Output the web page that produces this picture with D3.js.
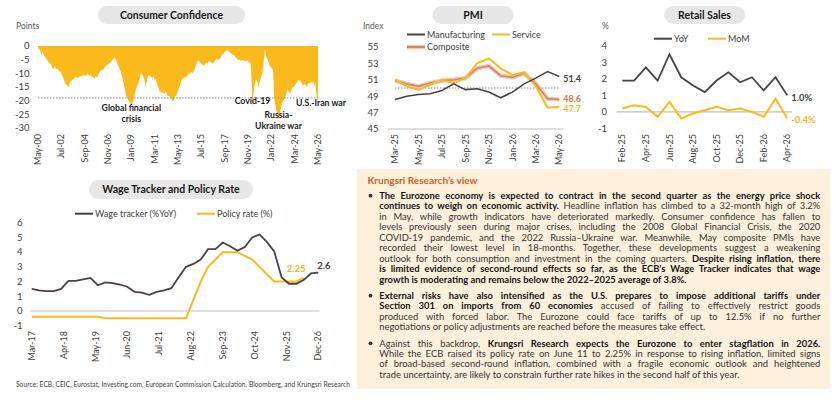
<!DOCTYPE html>
<html>
<head>
<meta charset="utf-8">
<script src="https://cdn.jsdelivr.net/npm/d3@7"></script>
<style>
body { margin: 0; background: #fff; }
svg { display: block; font-family: Lato, "Open Sans", sans-serif; }
</style>
</head>
<body>
<svg id="chart" width="840" height="405"></svg>
<script>
// ---- data ----
// Consumer confidence, monthly, May-00 .. May-26
const ccValues = [
  -0.5, -1.5, -1, -2.5, -3.5, -2, -2.7, -3.5,
  -4, -4.5, -5, -5.5, -6, -6.5, -6.3, -7, -8, -8.5, -7.5, -7.5,
  -8.8, -8.2, -8.5, -9, -9.5, -9.2, -10, -10.8, -11.5, -12.5, -13.5, -14,
  -14.2, -14.8, -14.9, -14, -13, -12.8, -12.5, -12.2, -12, -11.5, -11.2, -11.5,
  -11.8, -11.5, -11.2, -11.2, -11, -10.8, -11, -10.5, -10.8, -11, -10.5, -10.2,
  -10.4, -10.8, -10.6, -11, -11.5, -11.2, -11.5, -12, -11, -11.2, -11.7, -10.5,
  -9.8, -9.5, -9, -8.8, -9, -8.5, -8, -7.5, -7.2, -7, -6.8, -6.5,
  -6.3, -6, -5.5, -5, -4.8, -4.2, -4.5, -5, -6, -7, -7.5, -8.5,
  -9, -10.5, -11.5, -13, -14.5, -16, -18, -19, -19.5, -20, -20.5, -21,
  -21.5, -21, -20, -19, -17.5, -16, -15, -14, -13.5, -12.5, -10.5, -10,
  -10.6, -11, -12, -13, -15, -13, -11.5, -10.6, -11, -10.8, -11.5, -11.2,
  -12, -11, -12.5, -12, -13, -14, -15, -16, -17, -16.5, -17.5, -17,
  -17.3, -17.5, -16.5, -17, -18, -18.2, -18.5, -18.5, -19, -19.5, -20.4, -20,
  -19, -18.5, -18, -17.3, -16.5, -15.5, -14.5, -13.5, -12.4, -12, -11.8, -11.5,
  -11.5, -11.2, -11.2, -10.5, -10, -10.2, -9.8, -9.4, -10, -9.5, -9, -8,
  -7, -6.3, -5.5, -5.2, -5.8, -6.2, -6.5, -6.8, -7, -7.2, -6.5, -6.2,
  -6, -6.5, -5.7, -5.5, -5.8, -6, -6.3, -6.3, -6, -5.5, -5, -4.5,
  -4.8, -5, -5.1, -4.5, -3.8, -3.2, -3, -2.7, -2.2, -1.8, -1.6, -1.5,
  -1.7, -2, -2.5, -2.8, -3, -3.2, -3.3, -3.5, -4, -4.5, -4.8, -5,
  -5, -5.1, -5.5, -5.2, -5.1, -5.3, -5.5, -5.4, -5.8, -5.1, -5.5, -6,
  -6.3, -6, -13, -22.8, -18, -14.9, -13.5, -12.4, -13, -13.5, -15.5, -13,
  -12, -11, -9.9, -7, -3.9, -0.9, -3, -4.5, -5, -6, -7, -7.6,
  -8, -8.5, -8.8, -18.5, -21, -22, -24.6, -25, -27.1, -26, -24, -22.2,
  -21, -20, -19.5, -19.1, -18, -17, -16, -16.5, -17, -17.5, -16.5, -15.5,
  -14.9, -15, -14.5, -14, -13.5, -13, -12.4, -12.8, -12.5, -13, -13.8, -14.3,
  -14.2, -13.8, -14, -15, -14.5, -13.6, -13.8, -13.5, -13.2, -13, -13.5, -13,
  -15, -13.5, -16.5, -20.5, -19
];
const ccTickLabels = ["May-00", "Jul-02", "Sep-04", "Nov-06", "Jan-09", "Mar-11", "May-13",
  "Jul-15", "Sep-17", "Nov-19", "Jan-22", "Mar-24", "May-26"];
const ccYTicks = [0, -5, -10, -15, -20, -25, -30];

// PMI, monthly Mar-25 .. May-26
const pmiMonths = ["Mar-25", "Apr-25", "May-25", "Jun-25", "Jul-25", "Aug-25", "Sep-25", "Oct-25",
  "Nov-25", "Dec-25", "Jan-26", "Feb-26", "Mar-26", "Apr-26", "May-26"];
const pmiManufacturing = [48.6, 49.0, 49.2, 49.3, 49.7, 50.5, 49.8, 49.9, 49.5, 48.8, 49.5, 50.5, 51.2, 52.0, 51.4];
const pmiService = [51.0, 50.2, 49.75, 50.4, 51.0, 50.6, 51.2, 53.0, 53.6, 52.4, 51.6, 51.9, 50.2, 47.6, 47.7];
const pmiComposite = [50.9, 50.5, 50.2, 50.6, 50.9, 51.0, 51.2, 52.4, 52.7, 51.5, 51.3, 51.8, 50.5, 48.7, 48.6];
const pmiYTicks = [45, 47, 49, 51, 53, 55];

// Retail sales, monthly Feb-25 .. Apr-26
const retailMonths = ["Feb-25", "Mar-25", "Apr-25", "May-25", "Jun-25", "Jul-25", "Aug-25", "Sep-25",
  "Oct-25", "Nov-25", "Dec-25", "Jan-26", "Feb-26", "Mar-26", "Apr-26"];
const retailYoY = [1.9, 1.9, 2.7, 1.9, 3.5, 2.1, 1.6, 1.2, 1.9, 2.4, 1.8, 2.1, 1.3, 2.1, 1.0];
const retailMoM = [0.2, 0.4, 0.3, -0.3, 0.6, -0.4, -0.1, 0.1, 0.3, 0.1, 0.2, 0.0, -0.3, 0.8, -0.4];
const retailYTicks = [-1, 0, 1, 2, 3, 4];

// Wage tracker and policy rate, quarterly Mar-17 .. Dec-26
const wageTracker = [1.5, 1.4, 1.35, 1.35, 1.5, 2.05, 2.05, 2.15, 2.25, 1.75, 1.95, 1.9,
  1.8, 1.65, 1.3, 1.25, 1.1, 1.3, 1.4, 1.55, 2.3, 3.0, 3.2, 3.5,
  4.2, 4.2, 4.65, 4.4, 4.1, 4.35, 5.0, 5.2, 4.7, 4.05, 2.3, 1.85, 1.85, 2.1, 2.55, 2.6];
const policyRate = [-0.4, -0.4, -0.4, -0.4, -0.4, -0.4, -0.4, -0.4, -0.4, -0.4,
  -0.5, -0.5, -0.5, -0.5, -0.5, -0.5, -0.5, -0.5, -0.5, -0.5, -0.5, -0.5,
  0.75, 2.0, 3.0, 3.5, 4.0, 4.0, 4.0, 3.75, 3.5, 3.0, 2.5, 2.0, 2.0, 2.0, 2.0, 2.25];
const wageTickLabels = ["Mar-17", "Apr-18", "May-19", "Jun-20", "Jul-21", "Aug-22", "Sep-23", "Oct-24", "Nov-25", "Dec-26"];
const wageYTicks = [-1, 0, 1, 2, 3, 4, 5, 6];

// commentary
const viewParagraphs = [
  [
    [{b: 1, t: "The Eurozone economy is expected to contract in the second quarter as the energy price shock"}],
    [{b: 1, t: "continues to weigh on economic activity."}, {t: " Headline inflation has climbed to a 32-month high of 3.2%"}],
    [{t: "in May, while growth indicators have deteriorated markedly. Consumer confidence has fallen to"}],
    [{t: "levels previously seen during major crises, including the 2008 Global Financial Crisis, the 2020"}],
    [{t: "COVID-19 pandemic, and the 2022 Russia\u2013Ukraine war. Meanwhile, May composite PMIs have"}],
    [{t: "recorded their lowest level in 18-months. Together, these developments suggest a weakening"}],
    [{t: "outlook for both consumption and investment in the coming quarters. "}, {b: 1, t: "Despite rising inflation, there"}],
    [{b: 1, t: "is limited evidence of second-round effects so far, as the ECB\u2019s Wage Tracker indicates that wage"}],
    [{b: 1, t: "growth is moderating and remains below the 2022\u20132025 average of 3.8%."}]
  ],
  [
    [{b: 1, t: "External risks have also intensified as the U.S. prepares to impose additional tariffs under"}],
    [{b: 1, t: "Section 301 on imports from 60 economies"}, {t: " accused of failing to effectively restrict goods"}],
    [{t: "produced with forced labor. The Eurozone could face tariffs of up to 12.5% if no further"}],
    [{t: "negotiations or policy adjustments are reached before the measures take effect."}]
  ],
  [
    [{t: "Against this backdrop, "}, {b: 1, t: "Krungsri Research expects the Eurozone to enter stagflation in 2026."}],
    [{t: "While the ECB raised its policy rate on June 11 to 2.25% in response to rising inflation, limited signs"}],
    [{t: "of broad-based second-round inflation, combined with a fragile economic outlook and heightened"}],
    [{t: "trade uncertainty, are likely to constrain further rate hikes in the second half of this year."}]
  ]
];

// ---- styles ----
const YELLOW = "#FBBA1C";
const DARK = "#4b4045";
const COMPOSITE = "#c98b6d";
const COMPOSITE_HALO = "#efc9b2";
const TICK = "#404040";

const svg = d3.select("#chart");

function pill(cx, y, w, h, label) {
	svg.append("rect")
		.attr("x", cx - w / 2).attr("y", y)
		.attr("width", w).attr("height", h)
		.attr("rx", h / 2)
		.attr("fill", "#e7e7e7");
	svg.append("text")
		.attr("x", cx).attr("y", y + h / 2)
		.attr("dy", "0.35em")
		.attr("text-anchor", "middle")
		.attr("font-weight", "bold")
		.attr("font-size", 10.5)
		.attr("fill", "#1a1a1a")
		.text(label);
}

function yAxisLabels(ticks, y, xRight) {
	svg.append("g").selectAll("text")
		.data(ticks)
		.enter().append("text")
			.attr("x", xRight)
			.attr("y", d => y(d))
			.attr("dy", "0.35em")
			.attr("text-anchor", "end")
			.attr("font-size", 9.5)
			.attr("fill", TICK)
			.text(d => d);
}

function xAxisLabels(data, x, yTop) {
	svg.append("g").selectAll("text")
		.data(data)
		.enter().append("text")
			.attr("transform", d => `translate(${x(d.i)},${yTop}) rotate(-90)`)
			.attr("dy", "0.35em")
			.attr("text-anchor", "end")
			.attr("font-size", 9)
			.attr("fill", TICK)
			.text(d => d.label);
}

function legendItem(x, y, color, label, halo) {
	if (halo) {
		svg.append("line")
			.attr("x1", x).attr("x2", x + 18).attr("y1", y).attr("y2", y)
			.attr("stroke", halo).attr("stroke-width", 4.5);
	}
	svg.append("line")
		.attr("x1", x).attr("x2", x + 18).attr("y1", y).attr("y2", y)
		.attr("stroke", color).attr("stroke-width", 2);
	svg.append("text")
		.attr("x", x + 20).attr("y", y)
		.attr("dy", "0.35em")
		.attr("font-size", 9)
		.attr("fill", TICK)
		.text(label);
}

function unitLabel(x, y, label) {
	svg.append("text")
		.attr("x", x).attr("y", y)
		.attr("dy", "0.35em")
		.attr("font-size", 8.5)
		.attr("fill", "#595959")
		.text(label);
}

// ---- Consumer confidence ----
pill(171.5, 6, 147, 18, "Consumer Confidence");
unitLabel(16, 26, "Points");

const xCC = d3.scaleLinear().domain([0, ccValues.length - 1]).range([38, 318]);
const yCC = d3.scaleLinear().domain([-30, 0]).range([128, 46]);

svg.append("path")
	.datum(ccValues)
	.attr("fill", YELLOW)
	.attr("d", d3.area()
		.x((d, i) => xCC(i))
		.y0(yCC(0))
		.y1(d => yCC(d)));

// dotted reference at latest reading
svg.append("line")
	.attr("x1", xCC(0)).attr("x2", xCC(ccValues.length - 1))
	.attr("y1", yCC(ccValues[ccValues.length - 1])).attr("y2", yCC(ccValues[ccValues.length - 1]))
	.attr("stroke", "#8c8c8c")
	.attr("stroke-width", 1)
	.attr("stroke-dasharray", "1.5,1.5");

yAxisLabels(ccYTicks, yCC, 29.5);
xAxisLabels(ccTickLabels.map((label, k) => ({label, i: k * 26})), xCC, 134);

const ccNotes = [
	{i: 104, v: -22.6, lines: ["Global financial", "crisis"]},
	{i: 239, v: -20.1, lines: ["Covid-19"]},
	{i: 268, v: -25.4, lines: ["Russia-", "Ukraine war"]},
	{i: 312, v: -20.8, lines: ["U.S.-Iran war"], dx: 3}
];
ccNotes.forEach(n => {
	const t = svg.append("text")
		.attr("x", xCC(n.i) + (n.dx || 0))
		.attr("y", yCC(n.v))
		.attr("text-anchor", "middle")
		.attr("font-weight", "bold")
		.attr("font-size", 8.7)
		.attr("fill", "#1a1a1a");
	n.lines.forEach((l, k) => {
		t.append("tspan").attr("x", xCC(n.i) + (n.dx || 0)).attr("dy", k ? 10.8 : "0.35em").text(l);
	});
});

// ---- PMI ----
pill(473, 6, 81, 18, "PMI");
unitLabel(363, 26, "Index");
legendItem(407, 34.5, DARK, "Manufacturing");
legendItem(492, 34.5, YELLOW, "Service");
legendItem(407, 47, COMPOSITE, "Composite", COMPOSITE_HALO);

const xP = d3.scaleLinear().domain([0, pmiMonths.length - 1]).range([395, 559.3]);
const yP = d3.scaleLinear().domain([45, 55]).range([129, 47]);

svg.append("line")
	.attr("x1", 388).attr("x2", 563.5)
	.attr("y1", yP(45)).attr("y2", yP(45))
	.attr("stroke", "#bfbfbf");
svg.append("line")
	.attr("x1", xP(0)).attr("x2", xP(pmiMonths.length - 1))
	.attr("y1", yP(50)).attr("y2", yP(50))
	.attr("stroke", "#8c8c8c")
	.attr("stroke-dasharray", "1.5,1.5");

const lineP = d3.line().x((d, i) => xP(i)).y(d => yP(d));
svg.append("path").datum(pmiComposite).attr("fill", "none")
	.attr("stroke", COMPOSITE_HALO).attr("stroke-width", 4.5).attr("d", lineP);
svg.append("path").datum(pmiComposite).attr("fill", "none")
	.attr("stroke", COMPOSITE).attr("stroke-width", 1.6).attr("d", lineP);
svg.append("path").datum(pmiService).attr("fill", "none")
	.attr("stroke", YELLOW).attr("stroke-width", 2).attr("d", lineP);
svg.append("path").datum(pmiManufacturing).attr("fill", "none")
	.attr("stroke", DARK).attr("stroke-width", 1.6).attr("d", lineP);

yAxisLabels(pmiYTicks, yP, 378.5);
xAxisLabels(pmiMonths.map((label, i) => ({label, i})).filter(d => d.i % 2 === 0), xP, 134);

const lastP = pmiMonths.length - 1;
[
	{v: pmiManufacturing[lastP], color: "#404040", dy: 2},
	{v: pmiComposite[lastP], color: "#d2733f", dy: -0.8},
	{v: pmiService[lastP], color: "#f5b41a", dy: 1.8}
].forEach(d => {
	svg.append("text")
		.attr("x", xP(lastP) + 4).attr("y", yP(d.v) + d.dy)
		.attr("dy", "0.35em")
		.attr("font-size", 9)
		.attr("font-weight", "bold")
		.attr("fill", d.color)
		.text(d.v.toFixed(1));
});

// ---- Retail sales ----
pill(704.5, 6, 81, 18, "Retail Sales");
unitLabel(602, 26, "%");
legendItem(654, 38.7, DARK, "YoY");
legendItem(708, 38.7, YELLOW, "MoM");

const xR = d3.scaleLinear().domain([0, retailMonths.length - 1]).range([622.3, 787.3]);
const yR = d3.scaleLinear().domain([-1, 4]).range([128.3, 46]);

svg.append("line")
	.attr("x1", 616.5).attr("x2", 792)
	.attr("y1", yR(0)).attr("y2", yR(0))
	.attr("stroke", "#bfbfbf").attr("stroke-width", 1.2);

const lineR = d3.line().x((d, i) => xR(i)).y(d => yR(d));
svg.append("path").datum(retailMoM).attr("fill", "none")
	.attr("stroke", YELLOW).attr("stroke-width", 2).attr("d", lineR);
svg.append("path").datum(retailYoY).attr("fill", "none")
	.attr("stroke", DARK).attr("stroke-width", 1.8).attr("d", lineR);

yAxisLabels(retailYTicks, yR, 607);
xAxisLabels(retailMonths.map((label, i) => ({label, i})).filter(d => d.i % 2 === 0), xR, 134);

const lastR = retailMonths.length - 1;
svg.append("text")
	.attr("x", xR(lastR) + 4).attr("y", yR(retailYoY[lastR]) + 2.5)
	.attr("dy", "0.35em").attr("font-size", 9.5).attr("font-weight", "bold")
	.attr("fill", "#404040").text(retailYoY[lastR].toFixed(1) + "%");
svg.append("text")
	.attr("x", xR(lastR) + 4).attr("y", yR(retailMoM[lastR]) + 1)
	.attr("dy", "0.35em").attr("font-size", 9.5).attr("font-weight", "bold")
	.attr("fill", "#f5b41a").text(retailMoM[lastR].toFixed(1) + "%");

// ---- Wage tracker and policy rate ----
pill(171, 180, 164, 19, "Wage Tracker and Policy Rate");
legendItem(75, 213.7, DARK, "Wage tracker (%YoY)");
legendItem(197, 213.7, YELLOW, "Policy rate (%)");

// x in months since Mar-17, points are quarterly
const xW = d3.scaleLinear().domain([0, 117]).range([31.7, 318.3]);
const yW = d3.scaleLinear().domain([-1, 6]).range([325.7, 222.7]);

svg.append("line")
	.attr("x1", 30).attr("x2", 319.5)
	.attr("y1", yW(0)).attr("y2", yW(0))
	.attr("stroke", "#bfbfbf").attr("stroke-width", 1.2);

const lineW = d3.line().x((d, i) => xW(i * 3)).y(d => yW(d));
svg.append("path").datum(policyRate).attr("fill", "none")
	.attr("stroke", YELLOW).attr("stroke-width", 2).attr("d", lineW);
svg.append("path").datum(wageTracker).attr("fill", "none")
	.attr("stroke", DARK).attr("stroke-width", 1.8).attr("d", lineW);

yAxisLabels(wageYTicks, yW, 22.5);
xAxisLabels(wageTickLabels.map((label, k) => ({label, i: k * 13})), xW, 331);

const lastPol = policyRate.length - 1;
svg.append("text")
	.attr("x", xW(lastPol * 3) + 2).attr("y", yW(policyRate[lastPol]) - 6)
	.attr("text-anchor", "end").attr("font-size", 9.5).attr("font-weight", "bold")
	.attr("fill", "#f5b41a").text(policyRate[lastPol].toFixed(2));
const lastWage = wageTracker.length - 1;
svg.append("text")
	.attr("x", xW(lastWage * 3) - 1).attr("y", yW(wageTracker[lastWage]) - 4)
	.attr("font-size", 9.5).attr("font-weight", "bold")
	.attr("fill", "#404040").text(wageTracker[lastWage]);

svg.append("text")
	.attr("x", 16).attr("y", 385)
	.attr("dy", "0.35em")
	.attr("font-size", 6.6)
	.attr("textLength", 334)
	.attr("lengthAdjust", "spacing")
	.attr("fill", "#404040")
	.text("Source: ECB, CEIC, Eurostat, Investing.com, European Commission Calculation, Bloomberg, and Krungsri Research");

// ---- Krungsri Research's view ----
svg.append("rect")
	.attr("x", 357).attr("y", 169)
	.attr("width", 473).attr("height", 220)
	.attr("fill", "#fdf1dc");
svg.append("text")
	.attr("x", 367.5).attr("y", 180)
	.attr("dy", "0.35em")
	.attr("font-size", 10)
	.attr("font-weight", "bold")
	.attr("fill", "#c9621f")
	.text("Krungsri Research\u2019s view");

const textLeft = 379.3, textWidth = 441;
const paraTop = [195.7, 295.7, 343.3];
const lineGap = 10.45;
const textG = svg.append("g").attr("font-size", 9.4).style("white-space", "pre");

function addLine(segs, x, y) {
	const t = textG.append("text").attr("x", x).attr("y", y).attr("dy", "0.35em");
	segs.forEach(s => t.append("tspan")
		.attr("font-weight", s.b ? "bold" : "normal")
		.attr("fill", s.b ? "#141414" : "#333333")
		.text(s.t));
	return t;
}

// justify every line but the last of each paragraph
viewParagraphs.forEach((para, p) => {
	textG.append("circle")
		.attr("cx", 370.5).attr("cy", paraTop[p])
		.attr("r", 1.9).attr("fill", "#333");
	para.forEach((segs, k) => {
		const t = addLine(segs, textLeft, paraTop[p] + k * lineGap);
		if (k < para.length - 1) {
			const w = t.node().getComputedTextLength();
			const spaces = (segs.map(s => s.t).join("").match(/ /g) || []).length;
			t.attr("word-spacing", (textWidth - w) / spaces);
		}
	});
});
</script>
</body>
</html>
